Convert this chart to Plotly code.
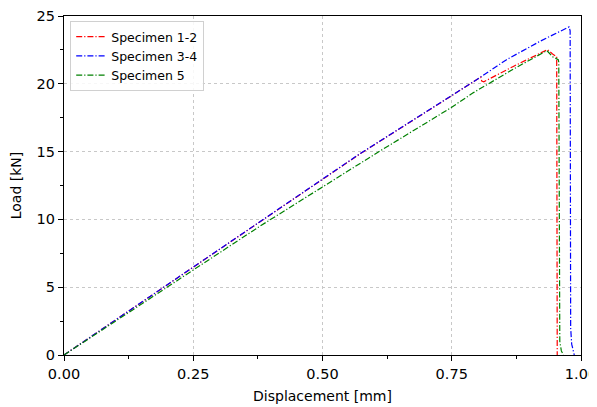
import plotly.graph_objects as go

# values (displacement in mm, load in kN)
disp_12 = [0.0, 0.379, 0.5725, 0.747, 0.806, 0.808, 0.812, 0.87, 0.935, 0.945, 0.953, 0.954, 0.954]
load_12 = [0.0, 9.8, 14.83, 19.05, 20.5, 20.2, 20.15, 21.3, 22.52, 22.2, 22.0, 0.5, 0.0]

disp_34 = [0.0, 0.379, 0.5725, 0.747, 0.808, 0.856, 0.921, 0.977, 0.979, 0.980, 0.982, 0.987]
load_34 = [0.0, 9.82, 14.85, 19.07, 20.55, 21.78, 23.14, 24.2, 23.9, 2.0, 0.8, 0.0]

disp_5 = [0.0, 0.379, 0.605, 0.747, 0.792, 0.87, 0.934, 0.945, 0.956, 0.957, 0.959, 0.962, 0.966]
load_5 = [0.0, 9.5, 14.9, 18.2, 19.35, 21.1, 22.45, 22.0, 21.78, 21.6, 1.0, 0.3, 0.0]

x_ticks = [0.0, 0.25, 0.5, 0.75, 1.0]
y_ticks = [0, 5, 10, 15, 20, 25]

DASHDOT = "6px,2px,1.2px,2px"
FONT = "DejaVu Sans"

fig = go.Figure()
for xs, ys, name, color in [
    (disp_12, load_12, "Specimen 1-2", "#ff0000"),
    (disp_34, load_34, "Specimen 3-4", "#0000ff"),
    (disp_5, load_5, "Specimen 5", "#008000"),
]:
    fig.add_trace(go.Scatter(x=xs, y=ys, name=name, mode="lines",
                             line=dict(color=color, width=1.2, dash=DASHDOT)))

axis_common = dict(
    showline=True, linecolor="black", linewidth=1.3, mirror=True,
    ticks="outside", ticklen=5, tickwidth=1.2, tickcolor="black",
    showgrid=True, gridcolor="#c8c8c8", griddash="dot", gridwidth=1,
    zeroline=False, tickfont=dict(size=14.5, color="black"), automargin=False,
    ticklabeloverflow="allow",
)

fig.update_xaxes(**axis_common, range=[0, 1], tickvals=x_ticks,
                 ticktext=[f"{v:.2f}" for v in x_ticks],
                 minor=dict(dtick=0.125, ticks="outside", ticklen=3, tickcolor="black", showgrid=False),
                 title=dict(text="Displacement [mm]", font=dict(size=14, color="black"), standoff=10))
fig.update_yaxes(**axis_common, range=[0, 25], tickvals=y_ticks,
                 minor=dict(dtick=2.5, ticks="outside", ticklen=3, tickcolor="black", showgrid=False),
                 title=dict(text="Load [kN]", font=dict(size=14, color="black"), standoff=11))

# the page body adds an 8px margin, so the figure is sized to fit inside it
fig.update_layout(
    width=589, height=399,
    margin=dict(l=56, r=16, t=8, b=52),
    plot_bgcolor="white", paper_bgcolor="white",
    font=dict(family=FONT, color="black"),
    legend=dict(x=0.012, y=0.985, xanchor="left", yanchor="top",
                bgcolor="rgba(255,255,255,0.85)", bordercolor="#d0d0d0", borderwidth=1,
                font=dict(size=12.5, color="black"), tracegroupgap=0, itemwidth=30),
    showlegend=True,
)

fig.write_html("out.html")
